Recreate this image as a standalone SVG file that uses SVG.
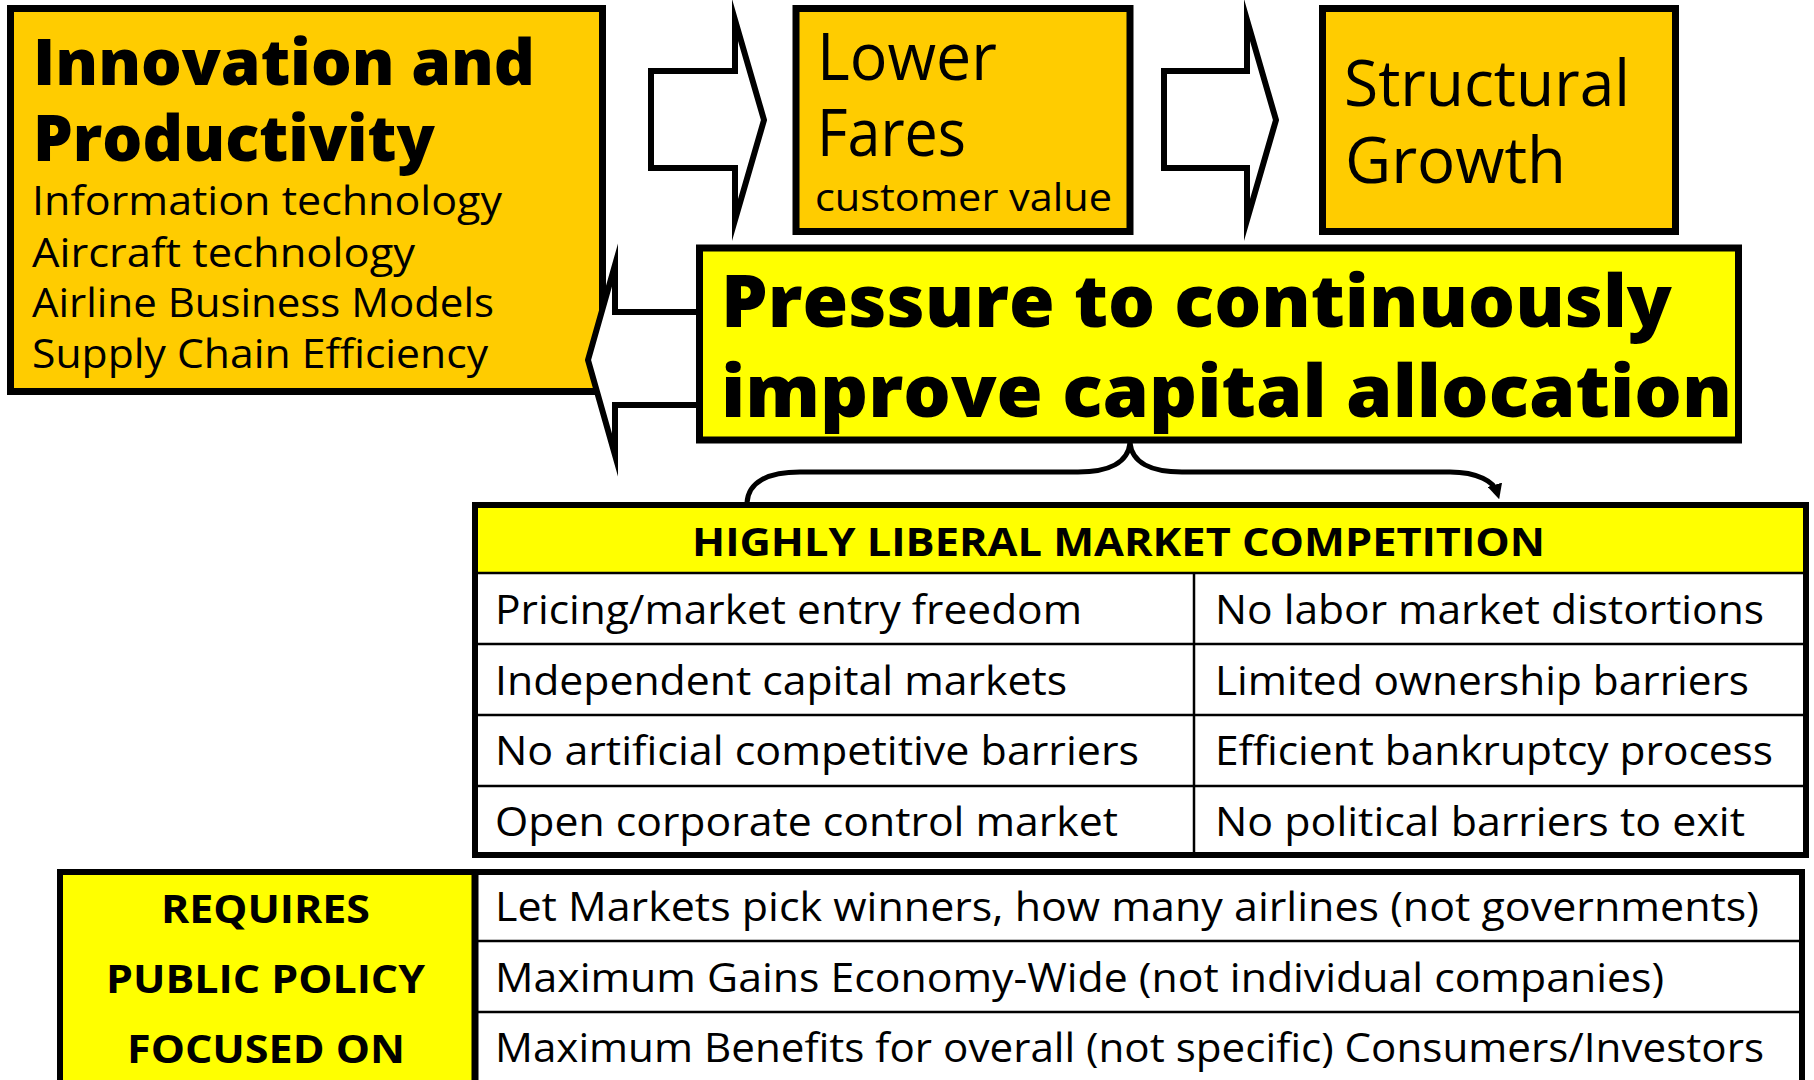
<svg xmlns="http://www.w3.org/2000/svg" width="1814" height="1080" viewBox="0 0 1814 1080">
<style>
.bg{fill:#fff}
.orange{fill:#FFCC00;stroke:#000;stroke-width:7}
.yellow{fill:#FFFF00}
.frame{fill:none;stroke:#000;stroke-width:6}
.arrow{fill:#fff;stroke:#000;stroke-width:6;stroke-miterlimit:30;stroke-linejoin:miter}
.line{stroke:#000;stroke-width:2.5}
.t{font-family:"Open Sans","Noto Sans","DejaVu Sans",sans-serif;fill:#000}
.b{font-weight:700}
.xb{font-weight:800}
.brace{fill:none;stroke:#000;stroke-width:5}
</style>
<defs>
<marker id="ah" viewBox="0 0 10 10" refX="5" refY="5" markerWidth="3" markerHeight="3" orient="auto" markerUnits="strokeWidth">
<path d="M0,0 L10,5 L0,10 z" fill="#000"/>
</marker>
</defs>
<rect class="bg" x="0" y="0" width="1814" height="1080"/>

<g id="innovation">
<rect class="orange" x="10.5" y="8.5" width="592" height="383"/>
<text class="t xb" x="33" y="85" font-size="64" textLength="502" lengthAdjust="spacingAndGlyphs">Innovation and</text>
<text class="t xb" x="33" y="161" font-size="64" textLength="402" lengthAdjust="spacingAndGlyphs">Productivity</text>
<text class="t" x="32" y="215" font-size="40" textLength="470" lengthAdjust="spacingAndGlyphs">Information technology</text>
<text class="t" x="32" y="267" font-size="40" textLength="383" lengthAdjust="spacingAndGlyphs">Aircraft technology</text>
<text class="t" x="32" y="317" font-size="40" textLength="462" lengthAdjust="spacingAndGlyphs">Airline Business Models</text>
<text class="t" x="32" y="368" font-size="40" textLength="456" lengthAdjust="spacingAndGlyphs">Supply Chain Efficiency</text>
</g>

<g id="lower-fares">
<rect class="orange" x="796" y="8.5" width="334" height="223"/>
<text class="t" x="817" y="80" font-size="66" textLength="180" lengthAdjust="spacingAndGlyphs">Lower</text>
<text class="t" x="817" y="156" font-size="66" textLength="149" lengthAdjust="spacingAndGlyphs">Fares</text>
<text class="t" x="815" y="211" font-size="38" textLength="297" lengthAdjust="spacingAndGlyphs">customer value</text>
</g>

<g id="structural-growth">
<rect class="orange" x="1322.5" y="8.5" width="353" height="223"/>
<text class="t" x="1344" y="106" font-size="64" textLength="286" lengthAdjust="spacingAndGlyphs">Structural</text>
<text class="t" x="1345" y="183" font-size="64" textLength="221" lengthAdjust="spacingAndGlyphs">Growth</text>
</g>

<g id="connectors">
<polygon class="arrow" points="651,71 735,71 735,20 764,120 735,220 735,168 651,168"/>
<polygon class="arrow" points="1164,71 1247,71 1247,20 1276,120 1247,220 1247,168 1164,168"/>
<polygon class="arrow" points="702,312 615,312 615,265 588,360 615,455 615,405 702,405"/>
<path class="brace" d="M1130,443 C1128,462 1110,472 1078,472 L800,472 C768,472 748,482 747,503"/>
<path class="brace" d="M1130,443 C1132,462 1150,472 1182,472 L1450,472 C1478,472 1494,482 1497,492" marker-end="url(#ah)"/>
</g>

<g id="pressure">
<rect class="yellow" x="699.5" y="248" width="1039" height="192" stroke="#000" stroke-width="7"/>
<text class="t xb" x="721" y="327" font-size="73" textLength="951" lengthAdjust="spacingAndGlyphs">Pressure to continuously</text>
<text class="t xb" x="721" y="417" font-size="73" textLength="1011" lengthAdjust="spacingAndGlyphs">improve capital allocation</text>
</g>

<g id="competition-table">
<rect x="475" y="505" width="1331" height="350" fill="#fff"/>
<rect class="yellow" x="475" y="505" width="1331" height="68"/>
<line class="line" x1="475" y1="573" x2="1806" y2="573" stroke-width="3"/>
<line class="line" x1="475" y1="644" x2="1806" y2="644"/>
<line class="line" x1="475" y1="715" x2="1806" y2="715"/>
<line class="line" x1="475" y1="786" x2="1806" y2="786"/>
<line class="line" x1="1194" y1="573" x2="1194" y2="855"/>
<rect class="frame" x="475" y="505" width="1331" height="350"/>
<text class="t b" x="692" y="556" font-size="39" textLength="853" lengthAdjust="spacingAndGlyphs">HIGHLY LIBERAL MARKET COMPETITION</text>
<text class="t" x="495" y="624" font-size="40" textLength="587" lengthAdjust="spacingAndGlyphs">Pricing/market entry freedom</text>
<text class="t" x="1215" y="624" font-size="40" textLength="549" lengthAdjust="spacingAndGlyphs">No labor market distortions</text>
<text class="t" x="495" y="695" font-size="40" textLength="572" lengthAdjust="spacingAndGlyphs">Independent capital markets</text>
<text class="t" x="1215" y="695" font-size="40" textLength="534" lengthAdjust="spacingAndGlyphs">Limited ownership barriers</text>
<text class="t" x="495" y="765" font-size="40" textLength="644" lengthAdjust="spacingAndGlyphs">No artificial competitive barriers</text>
<text class="t" x="1215" y="765" font-size="40" textLength="558" lengthAdjust="spacingAndGlyphs">Efficient bankruptcy process</text>
<text class="t" x="495" y="836" font-size="40" textLength="623" lengthAdjust="spacingAndGlyphs">Open corporate control market</text>
<text class="t" x="1215" y="836" font-size="40" textLength="530" lengthAdjust="spacingAndGlyphs">No political barriers to exit</text>
</g>

<g id="policy-table">
<rect x="60" y="872" width="1742" height="230" fill="#fff"/>
<rect class="yellow" x="60" y="872" width="415" height="230"/>
<line class="line" x1="475" y1="941" x2="1802" y2="941" stroke-width="3"/>
<line class="line" x1="475" y1="1012" x2="1802" y2="1012" stroke-width="3"/>
<line x1="475" y1="872" x2="475" y2="1102" stroke="#000" stroke-width="7"/>
<rect class="frame" x="60" y="872" width="1742" height="230" stroke-width="7"/>
<text class="t b" x="161" y="923" font-size="40" textLength="209" lengthAdjust="spacingAndGlyphs">REQUIRES</text>
<text class="t b" x="106" y="993" font-size="40" textLength="319" lengthAdjust="spacingAndGlyphs">PUBLIC POLICY</text>
<text class="t b" x="127" y="1063" font-size="40" textLength="278" lengthAdjust="spacingAndGlyphs">FOCUSED ON</text>
<text class="t" x="495" y="921" font-size="40" textLength="1264" lengthAdjust="spacingAndGlyphs">Let Markets pick winners, how many airlines (not governments)</text>
<text class="t" x="495" y="992" font-size="40" textLength="1169" lengthAdjust="spacingAndGlyphs">Maximum Gains Economy-Wide (not individual companies)</text>
<text class="t" x="495" y="1062" font-size="40" textLength="1269" lengthAdjust="spacingAndGlyphs">Maximum Benefits for overall (not specific) Consumers/Investors</text>
</g>
</svg>
